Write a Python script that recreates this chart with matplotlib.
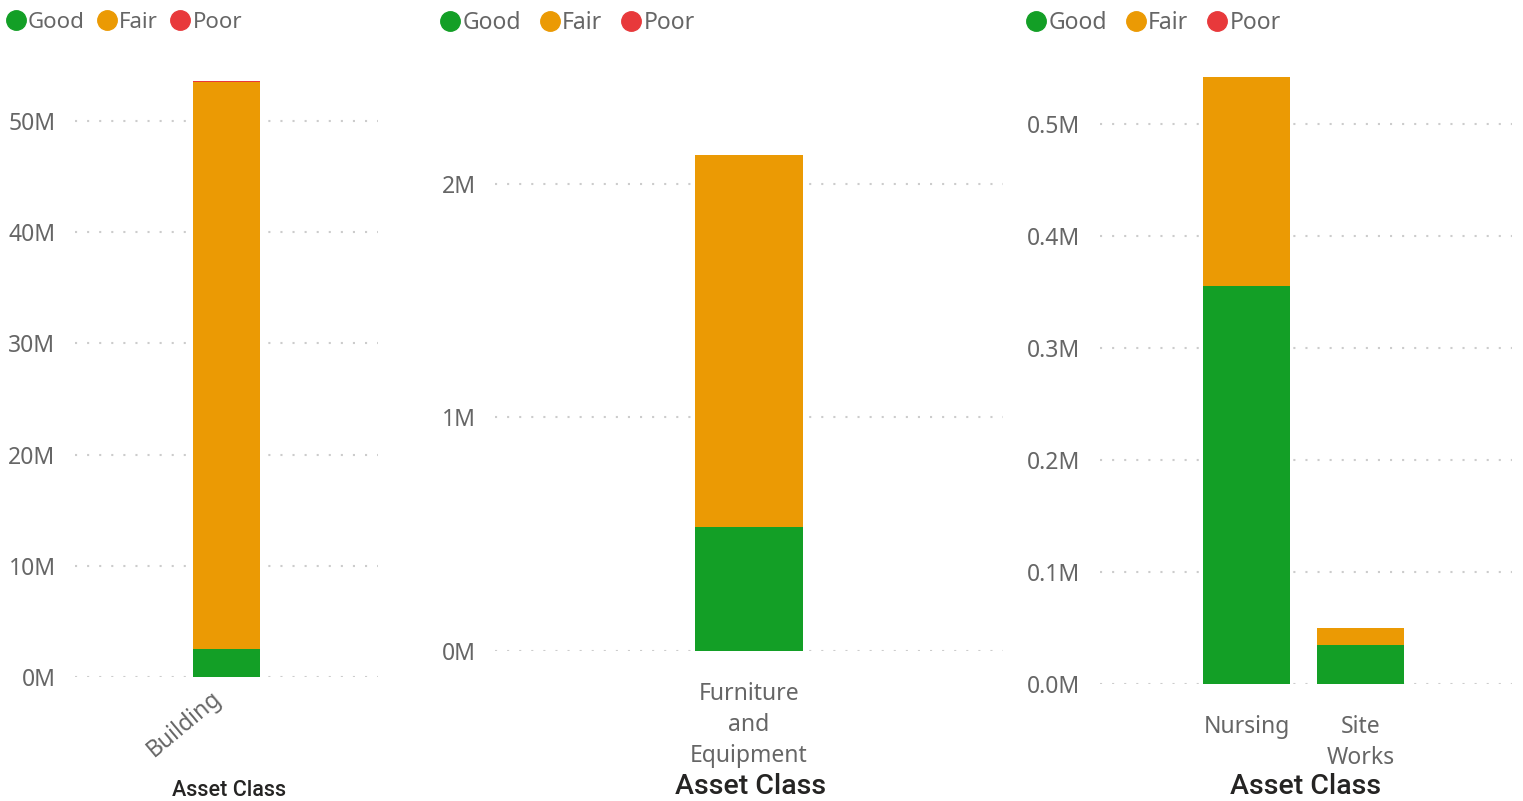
import matplotlib
matplotlib.use("Agg")
import matplotlib.pyplot as plt
import matplotlib.transforms as mtransforms
from matplotlib.lines import Line2D
from matplotlib.ticker import FuncFormatter

plt.rcParams['font.family'] = ['Noto Sans', 'DejaVu Sans']

# data (values in currency units)
statuses = ['Good', 'Fair', 'Poor']
colors = {'Good': '#139F26', 'Fair': '#EB9A04', 'Poor': '#E8393B'}

cats_1 = ['Building']
good_1 = [2.5e6]
fair_1 = [51.0e6]
poor_1 = [0.1e6]
ticks_1 = [0, 10e6, 20e6, 30e6, 40e6, 50e6]

cats_2 = ['Furniture\nand\nEquipment']
good_2 = [0.531e6]
fair_2 = [1.593e6]
poor_2 = [0.0]
ticks_2 = [0, 1e6, 2e6]

cats_3 = ['Nursing', 'Site\nWorks']
good_3 = [0.355e6, 0.035e6]
fair_3 = [0.187e6, 0.015e6]
poor_3 = [0.0, 0.0]
ticks_3 = [0, 0.1e6, 0.2e6, 0.3e6, 0.4e6, 0.5e6]

W, H = 1523, 801
fig = plt.figure(figsize=(W / 100, H / 100), dpi=100)

GRAY = '#666666'
DARK = '#252423'


def px_axes(x0, y0, x1, y1):
    return fig.add_axes([x0 / W, 1 - y1 / H, (x1 - x0) / W, (y1 - y0) / H])


def panel(box, cats, good, fair, poor, ticks, ylim, xlim, width, fmt, rot=0):
    ax = px_axes(*box)
    x = list(range(len(cats)))
    bottom = [0] * len(cats)
    for name, vals in zip(statuses, [good, fair, poor]):
        ax.bar(x, vals, width, bottom=bottom, color=colors[name], zorder=3)
        bottom = [b + v for b, v in zip(bottom, vals)]
    ax.set_xlim(*xlim)
    ax.set_ylim(*ylim)
    ax.set_yticks(ticks)
    ax.yaxis.set_major_formatter(FuncFormatter(fmt))
    ax.grid(axis='y', color='#cccccc', linestyle=(0, (1, 4.8)), linewidth=1.5, zorder=0)
    for s in ax.spines.values():
        s.set_visible(False)
    ax.tick_params(axis='y', length=0, pad=14, labelsize=16.5, labelcolor=GRAY)
    ax.set_xticks(x)
    if rot:
        ax.set_xticklabels(cats, rotation=rot, ha='right', va='center',
                           rotation_mode='anchor', fontsize=16.5, color=GRAY)
        ax.tick_params(axis='x', length=0, pad=13)
        shift = mtransforms.ScaledTranslation(-8 / 100, 0, fig.dpi_scale_trans)
        for lab in ax.get_xticklabels():
            lab.set_transform(lab.get_transform() + shift)
    else:
        ax.set_xticklabels(cats, fontsize=16.5, color=GRAY, linespacing=1.4)
        ax.tick_params(axis='x', length=0, pad=22)
    return ax


fmt_m = lambda v, p: '%dM' % round(v / 1e6)
fmt_m1 = lambda v, p: '%.1fM' % (v / 1e6)

panel((75, 70, 378, 677), cats_1, good_1, fair_1, poor_1, ticks_1,
      (0, 54.6e6), (-0.5, 0.5), 0.22, fmt_m, rot=40)
panel((495, 70, 1003, 651), cats_2, good_2, fair_2, poor_2, ticks_2,
      (0, 2.488e6), (-0.5, 0.5), 0.213, fmt_m)
panel((1100, 70, 1512, 684), cats_3, good_3, fair_3, poor_3, ticks_3,
      (0, 0.548e6), (-1.285, 2.33), 0.763, fmt_m1)

# axis titles
fig.text(229 / W, 1 - 791 / H, 'Asset Class', ha='center', va='center',
         fontsize=15.5, color=DARK, family='Roboto', weight='medium')
fig.text(751 / W, 1 - 786 / H, 'Asset Class', ha='center', va='center',
         fontsize=20.5, color=DARK, family='Roboto', weight='medium')
fig.text(1306 / W, 1 - 786 / H, 'Asset Class', ha='center', va='center',
         fontsize=20.5, color=DARK, family='Roboto', weight='medium')

# legends
handles = [Line2D([], [], marker='o', linestyle='', markersize=14,
                  markerfacecolor=colors[s], markeredgecolor=colors[s]) for s in statuses]
for lx, ly, fs, cs in [(9, 12, 16, 0.7), (443, 11, 16.5, 0.95), (1029, 11, 16.5, 0.95)]:
    leg = fig.legend(handles, statuses, loc='upper left', ncol=3, frameon=False,
                     bbox_to_anchor=(lx / W, 1 - ly / H), borderpad=0, borderaxespad=0,
                     handlelength=0.6, handletextpad=0.25, columnspacing=cs,
                     fontsize=fs)
    for t in leg.get_texts():
        t.set_color(GRAY)

fig.savefig('out.png', dpi=100, facecolor='white')
